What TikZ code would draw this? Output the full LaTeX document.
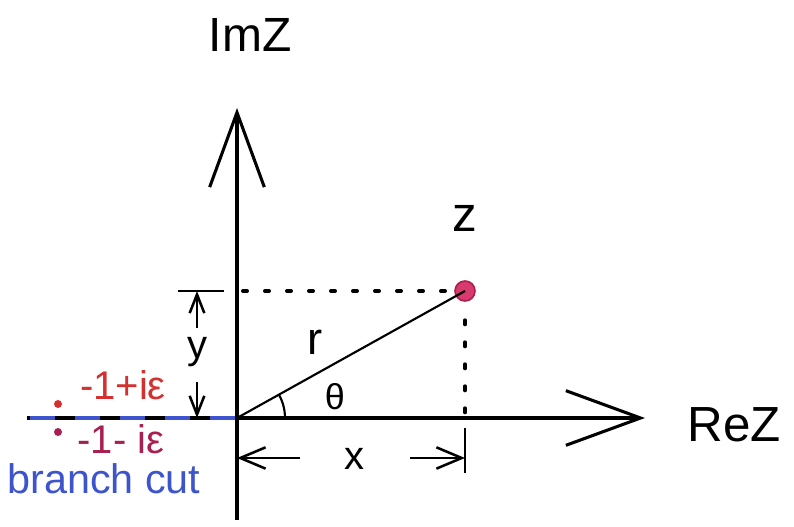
\documentclass[tikz,border=0pt]{standalone}
\usepackage{fontspec}
\setmainfont{Liberation Sans}
\usetikzlibrary{arrows.meta}
\definecolor{cutblue}{RGB}{62,84,204}
\definecolor{epsred}{RGB}{212,48,48}
\definecolor{epsdark}{RGB}{168,32,82}
\definecolor{zpink}{RGB}{216,58,112}
\definecolor{zrim}{RGB}{170,30,80}
\begin{document}
\begin{tikzpicture}[x=0.75pt, y=-0.75pt,
        axis/.style={line width=2.3pt, -{Straight Barb[length=56pt, width=41pt]}},
        dotline/.style={line width=3pt, line cap=round, dash pattern=on 3pt off 13.5pt},
        dimline/.style={line width=1.9pt},
        xdim/.style={dimline, -{Straight Barb[length=19pt, width=16pt]}},
        ydim/.style={dimline, -{Straight Barb[length=14pt, width=11pt]}},
        cutline/.style={cutblue, line width=3.4pt, dash pattern=on 18.75pt off 15pt},
        lbl/.style={anchor=base, inner sep=0pt},
        zpoint/.style={circle, fill=zpink, draw=zrim, line width=1.2pt, minimum size=15pt, inner sep=0pt},
        epsdot/.style={circle, inner sep=0pt, minimum size=6pt}]
    \useasboundingbox (0,0) rectangle (794,527);

    % --- Axes ---
    \coordinate (O) at (237,418);
    \coordinate (xstart) at (27,418);
    \coordinate (xend) at (645,418);
    \coordinate (ystart) at (237,520);
    \coordinate (yend) at (237,108);
    \draw[axis] (xstart) -- (xend);
    \draw[axis] (ystart) -- (yend);
    \node[lbl, font=\fontsize{36}{36}\selectfont] (imz) at (250,52) {ImZ};
    \node[lbl, font=\fontsize{37}{37}\selectfont] (rez) at (734,442) {ReZ};

    % --- Branch cut ---
    \draw[cutline] (30,418) -- (O);
    \node[epsdot, fill=epsred] (pplus) at (58,404) {};
    \node[epsdot, fill=epsdark] (pminus) at (58,432) {};
    \node[lbl, epsred, font=\fontsize{30}{30}\selectfont] (lplus) at (123,400) {-1+iε};
    \node[lbl, epsdark, font=\fontsize{30}{30}\selectfont] (lminus) at (121,454) {-1- iε};
    \node[lbl, cutblue, font=\fontsize{31}{31}\selectfont] (lcut) at (104,494) {branch cut};

    % --- Point z ---
    \node[zpoint] (z) at (465,291) {};
    \node[lbl, font=\fontsize{37}{37}\selectfont] (lz) at (465,232) {z};
    \draw[dotline] (O |- z) ++(6,0) -- (z.west);
    \draw[dotline] ([yshift=-22]z.center) -- (O -| z);
    \draw[line width=1.6pt] (O) -- (z.center);
    \draw[line width=1.6pt] ([shift={(48,0)}]O) arc[start angle=0, end angle=29, radius=36pt];
    \node[lbl, font=\fontsize{34}{34}\selectfont] (lr) at (315,355) {r};
    \node[lbl, font=\fontsize{27}{27}\selectfont] (lth) at (335,410) {θ};

    % --- Dimension y ---
    \draw[dimline] (178,291) -- (224,291);
    \node[lbl, font=\fontsize{30}{30}\selectfont] (ly) at (197,359) {y};
    \draw[ydim] (197,328) -- (197,291);
    \draw[ydim] (197,382) -- (197,418);

    % --- Dimension x ---
    \draw[dimline] (465,428) -- (465,473);
    \node[lbl, font=\fontsize{30}{30}\selectfont] (lx) at (354,470) {x};
    \draw[xdim] (300,458) -- (237,458);
    \draw[xdim] (410,458) -- (465,458);
\end{tikzpicture}
\end{document}
